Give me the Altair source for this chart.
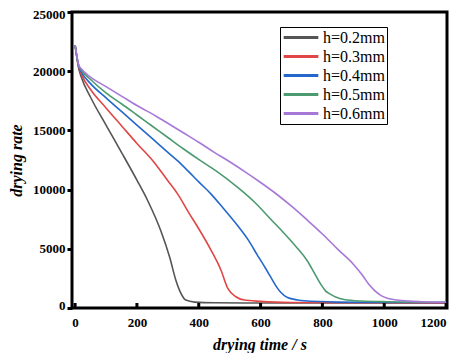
import altair as alt
import pandas as pd

labels = ["h=0.2mm", "h=0.3mm", "h=0.4mm", "h=0.5mm", "h=0.6mm"]
colors = ["#555555", "#e04646", "#2468cc", "#4c9a70", "#a878d8"]

t_02 = [0, 12, 20, 50, 100, 150, 200, 235, 277, 306, 326, 342, 358, 387, 450, 600, 800, 1000, 1200]
v_02 = [22200, 20200, 19500, 17800, 15450, 13150, 10800, 9060, 6540, 4280, 2350, 1260, 670, 500, 440, 420, 420, 420, 420]

t_03 = [0, 12, 20, 50, 100, 150, 200, 252, 300, 332, 370, 397, 440, 472, 494, 520, 547, 600, 700, 900, 1200]
v_03 = [22200, 20300, 19750, 18450, 16900, 15400, 13900, 12420, 10750, 9620, 7950, 6820, 4870, 3190, 1650, 950, 670, 560, 470, 440, 430]

t_04 = [0, 12, 20, 50, 101, 150, 200, 250, 300, 332, 365, 400, 440, 480, 526, 560, 590, 615, 633, 650, 665, 687, 720, 741, 848, 1000, 1200]
v_04 = [22200, 20400, 19950, 18950, 17730, 16600, 15450, 14300, 13150, 12420, 11580, 10650, 9620, 8400, 6950, 5750, 4450, 3400, 2600, 1850, 1330, 880, 680, 610, 500, 470, 460]

t_05 = [0, 12, 20, 50, 101, 150, 200, 250, 300, 350, 407, 456, 526, 580, 633, 687, 719, 752, 775, 795, 810, 827, 845, 870, 924, 1010, 1200]
v_05 = [22200, 20450, 20100, 19300, 18150, 17250, 16300, 15350, 14400, 13450, 12420, 11580, 10180, 8950, 7500, 6000, 5050, 3950, 2900, 2000, 1450, 1150, 900, 720, 590, 530, 480]

t_06 = [0, 12, 20, 50, 100, 150, 200, 262, 300, 350, 400, 450, 500, 550, 600, 650, 700, 750, 800, 850, 900, 930, 950, 970, 990, 1010, 1040, 1080, 1120, 1200]
v_06 = [22200, 20500, 20200, 19500, 18700, 17900, 17100, 16200, 15600, 14800, 14000, 13150, 12350, 11500, 10600, 9650, 8600, 7450, 6250, 4950, 3700, 2750, 2000, 1450, 1050, 830, 680, 580, 530, 480]

x_ticks = [0, 200, 400, 600, 800, 1000, 1200]
y_ticks = [0, 5000, 10000, 15000, 20000, 25000]

series = [(labels[0], t_02, v_02), (labels[1], t_03, v_03), (labels[2], t_04, v_04),
          (labels[3], t_05, v_05), (labels[4], t_06, v_06)]
frames = []
for name, ts, vs in series:
    frames.append(pd.DataFrame({"t": ts, "v": vs, "h": name}))
df = pd.concat(frames, ignore_index=True)
ticks_df = pd.DataFrame({"t": x_ticks})

FONT = "Times New Roman, Liberation Serif, serif"
xscale = alt.Scale(domain=[-10, 1203], nice=False, zero=False)
yscale = alt.Scale(domain=[0, 25000], nice=False)

lines = alt.Chart(df).mark_line(strokeWidth=1.6, interpolate="monotone").encode(
    x=alt.X("t:Q", scale=xscale,
            axis=alt.Axis(values=x_ticks, title="drying time / s", format="d",
                          tickSize=0, labelPadding=8, titlePadding=7)),
    y=alt.Y("v:Q", scale=yscale,
            axis=alt.Axis(values=y_ticks, title="drying rate", format="d",
                          tickSize=5, tickWidth=3, tickColor="black",
                          labelPadding=2, titlePadding=8,
                          labelFlush=True, labelFlushOffset=4)),
    color=alt.Color("h:N", scale=alt.Scale(domain=labels, range=colors),
                    legend=alt.Legend(title=None, orient="none", legendX=208, legendY=15,
                                      symbolType="stroke", symbolStrokeWidth=3,
                                      symbolSize=1200, labelFont=FONT, labelFontSize=16,
                                      labelColor="black", strokeColor="black",
                                      fillColor="white", padding=2, rowPadding=2,
                                      clipHeight=17, labelOffset=3)),
    order=alt.Order("t:Q"),
)

inner_ticks = alt.Chart(ticks_df).mark_rule(color="black", strokeWidth=3).encode(
    x=alt.X("t:Q", scale=xscale),
    y=alt.value(296),
    y2=alt.value(291),
)

chart = alt.layer(lines, inner_ticks).properties(
    width=375, height=296,
    autosize=alt.AutoSizeParams(type="none"),
    padding={"left": 64, "top": 4, "right": 12, "bottom": 45},
).configure_view(
    stroke="black", strokeWidth=3
).configure_axis(
    domain=False, grid=False,
    labelFont=FONT, labelFontSize=13, labelFontWeight="bold", labelColor="black",
    titleFont=FONT, titleFontSize=16, titleFontWeight="bold", titleFontStyle="italic",
    titleColor="black",
)

chart.save("out.html", embed_options={"renderer": "svg", "actions": False})
